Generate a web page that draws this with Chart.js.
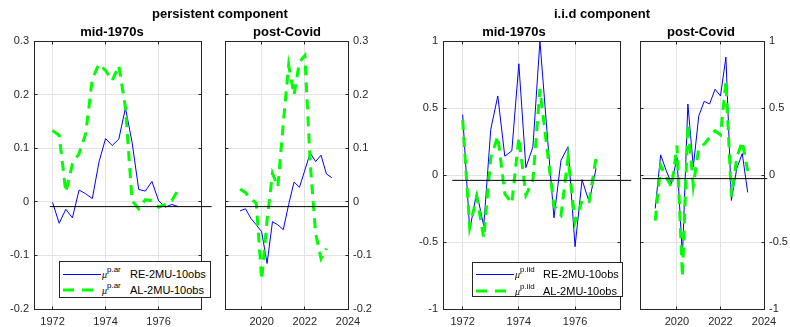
<!DOCTYPE html>
<html><head><meta charset="utf-8">
<script src="https://cdn.jsdelivr.net/npm/chart.js@4.4.1/dist/chart.umd.min.js"></script>
<style>
html,body{margin:0;padding:0;background:#fff;}
#wrap{position:relative;width:790px;height:327px;overflow:hidden;font-family:'Liberation Sans',Arial,sans-serif;}
canvas{position:absolute;top:0;}
.ttl{position:absolute;width:200px;text-align:center;font-weight:bold;font-size:13px;line-height:16px;color:#000;white-space:nowrap;}
.leg{position:absolute;background:#fff;border:1px solid #262626;box-sizing:border-box;}
.leg span{position:absolute;white-space:nowrap;color:#000;}
.leg .mu{font-family:'Liberation Serif',serif;font-style:italic;font-size:10px;line-height:10px;}
.leg .sup{font-size:8px;line-height:8px;}
.leg .lt{font-size:11px;line-height:14px;}
.leg svg{position:absolute;}
</style></head>
<body><div id="wrap">
<canvas id="c1" width="230" height="327" style="left:0px"></canvas>
<canvas id="c2" width="190" height="327" style="left:200px"></canvas>
<canvas id="c3" width="240" height="327" style="left:400px"></canvas>
<canvas id="c4" width="160" height="327" style="left:630px"></canvas>
<div class="ttl" style="left:120px;top:6px">persistent component</div>
<div class="ttl" style="left:502px;top:6px">i.i.d component</div>
<div class="ttl" style="left:12px;top:24px">mid-1970s</div>
<div class="ttl" style="left:187px;top:24px">post-Covid</div>
<div class="ttl" style="left:414px;top:24px">mid-1970s</div>
<div class="ttl" style="left:601px;top:24px">post-Covid</div>
<div class="leg" id="leg1" style="left:59px;top:261px;width:152px;height:37px"></div>
<div class="leg" id="leg3" style="left:472px;top:262px;width:151px;height:35px"></div>
</div>
<script>
// ---- data ----
const quarters70s = [1972.00,1972.25,1972.50,1972.75,1973.00,1973.25,1973.50,1973.75,1974.00,1974.25,
                     1974.50,1974.75,1975.00,1975.25,1975.50,1975.75,1976.00,1976.25,1976.50,1976.75];
const quartersCovid = [2019.00,2019.25,2019.50,2019.75,2020.00,2020.25,2020.50,2020.75,2021.00,
                       2021.25,2021.50,2021.75,2022.00,2022.25,2022.50,2022.75,2023.00,2023.25];

const persRE70s = [-0.001,-0.040,-0.014,-0.030,0.022,0.015,0.006,0.074,0.118,0.105,
                   0.117,0.175,0.111,0.023,0.020,0.038,0.002,-0.010,-0.005,-0.009];
const persAL70s = [0.133,0.124,0.018,0.071,0.090,0.127,0.229,0.257,0.245,0.226,
                   0.254,0.176,0.002,-0.013,0.004,0.002,-0.010,-0.005,0.002,0.024];
const persRECovid = [-0.017,-0.013,-0.031,-0.043,-0.056,-0.115,-0.037,-0.043,-0.052,
                     -0.005,0.037,0.027,0.059,0.091,0.075,0.087,0.052,0.045];
const persALCovid = [0.024,0.017,0.006,-0.003,-0.146,-0.034,0.053,0.028,0.146,
                     0.255,0.199,0.261,0.273,0.071,-0.059,-0.106,-0.087];

const iidRE70s = [0.45,-0.41,-0.13,-0.38,0.34,0.59,0.14,0.18,0.83,0.055,
                  0.21,1.00,0.33,-0.32,0.11,0.21,-0.535,-0.035,-0.20,0.05];
const iidAL70s = [0.41,-0.39,-0.16,-0.47,0.13,0.29,-0.14,-0.21,0.28,-0.15,
                  -0.04,0.64,0.20,-0.23,-0.30,0.13,-0.35,-0.19,-0.20,0.13];
const iidRECovid = [-0.25,0.15,0.035,-0.065,0.13,-0.61,0.53,0.06,0.44,
                    0.55,0.53,0.64,0.59,0.88,-0.19,0.05,0.16,-0.13];
const iidALCovid = [-0.34,0.07,-0.015,-0.09,0.22,-0.76,0.38,-0.08,0.20,
                    0.23,0.28,0.33,0.30,0.70,-0.16,0.13,0.25,0.03];

const xTicks70s = [1972, 1974, 1976];
const xTicksCovid = [2020, 2022, 2024];
const yTicksPers = [-0.2, -0.1, 0, 0.1, 0.2, 0.3];
const yTicksIid = [-1, -0.5, 0, 0.5, 1];
const xRange70s = [1971.3, 1977.6];
const xRangeCovid = [2018.3, 2024];
const yRangePers = [-0.2, 0.3];
const yRangeIid = [-1, 1];

const seriesLabels = ['RE-2MU-10obs', 'AL-2MU-10obs'];
const supPers = 'p.ar';
const supIid = 'p.iid';

// horizontal reference lines: [x start, x end] and level
const refSpanPers70s = [1971.9, 1978.0],  refLevelPers70s = -0.009;
const refSpanPersCovid = [2018.3, 2024.0], refLevelPersCovid = -0.009;
const refSpanIid70s = [1971.63, 1978.0],  refLevelIid70s = -0.04;
const refSpanIidCovid = [2018.4, 2024.15], refLevelIidCovid = -0.027;

// ---- rendering ----
Chart.defaults.font.family = "'Liberation Sans', Arial, sans-serif";
const AX = '#262626';
const al = (p) => Math.round(p - 0.5) + 0.5;

const boxPlugin = {
  id: 'axbox',
  afterDatasetsDraw(chart) {
    const {ctx, chartArea: a, scales: {x, y}} = chart;
    const L = al(a.left), R = al(a.right), T = al(a.top), B = al(a.bottom);
    ctx.save();
    ctx.strokeStyle = AX; ctx.lineWidth = 1;
    ctx.strokeRect(L, T, R - L, B - T);
    ctx.beginPath();
    x.ticks.forEach(t => {
      const px = al(x.getPixelForValue(t.value));
      ctx.moveTo(px, B); ctx.lineTo(px, B - 3);
      ctx.moveTo(px, T); ctx.lineTo(px, T + 3);
    });
    y.ticks.forEach(t => {
      const py = al(y.getPixelForValue(t.value));
      ctx.moveTo(L, py); ctx.lineTo(L + 3, py);
      ctx.moveTo(R, py); ctx.lineTo(R - 3, py);
    });
    ctx.stroke();
    ctx.restore();
  }
};

const pts = (xs, ys) => ys.map((v, i) => ({x: xs[i], y: v}));

function panel(id, o) {
  return new Chart(document.getElementById(id), {
    type: 'line',
    data: { datasets: [
      {label: 'ref', data: [{x: o.ref[0], y: o.refY}, {x: o.ref[1], y: o.refY}],
       borderColor: '#000', borderWidth: 1, pointRadius: 0, clip: false, order: 1},
      {label: seriesLabels[1], data: pts(o.xs, o.al), borderColor: '#00ff00', borderWidth: 3,
       borderDash: [10, 7], pointRadius: 0, tension: 0, order: 2},
      {label: seriesLabels[0], data: pts(o.xs, o.re), borderColor: '#0000ff', borderWidth: 1,
       pointRadius: 0, tension: 0, order: 3}
    ]},
    options: {
      responsive: false, animation: false, devicePixelRatio: 1,
      layout: {padding: o.pad},
      plugins: {legend: {display: false}, tooltip: {enabled: false}},
      scales: {
        x: {type: 'linear', min: o.xr[0], max: o.xr[1],
            afterBuildTicks: s => { s.ticks = o.xt.map(v => ({value: v})); },
            afterFit: s => { s.height = 18; },
            ticks: {callback: v => String(v), font: {size: 11}, color: AX, padding: 6,
                    maxRotation: 0, autoSkip: false},
            grid: {color: '#e3e3e3', drawTicks: false}, border: {display: false}},
        y: {type: 'linear', position: o.ypos, min: o.yr[0], max: o.yr[1],
            afterBuildTicks: s => { s.ticks = o.yt.map(v => ({value: v})); },
            afterFit: s => { s.width = o.yw; },
            ticks: {callback: v => String(v), font: {size: 11}, color: AX, padding: 5, autoSkip: false},
            grid: {color: '#e3e3e3', drawTicks: false}, border: {display: false}}
      }
    },
    plugins: [boxPlugin]
  });
}

panel('c1', {xs: quarters70s, re: persRE70s, al: persAL70s, xr: xRange70s, xt: xTicks70s,
  yr: yRangePers, yt: yTicksPers, ypos: 'left', yw: 34, pad: {left: 0, top: 41, right: 29, bottom: 0},
  ref: refSpanPers70s, refY: refLevelPers70s});
panel('c2', {xs: quartersCovid, re: persRECovid, al: persALCovid, xr: xRangeCovid, xt: xTicksCovid,
  yr: yRangePers, yt: yTicksPers, ypos: 'right', yw: 42, pad: {left: 25, top: 41, right: 0, bottom: 0},
  ref: refSpanPersCovid, refY: refLevelPersCovid});
panel('c3', {xs: quarters70s, re: iidRE70s, al: iidAL70s, xr: xRange70s, xt: xTicks70s,
  yr: yRangeIid, yt: yTicksIid, ypos: 'left', yw: 43, pad: {left: 0, top: 41, right: 20, bottom: 0},
  ref: refSpanIid70s, refY: refLevelIid70s});
panel('c4', {xs: quartersCovid, re: iidRECovid, al: iidALCovid, xr: xRangeCovid, xt: xTicksCovid,
  yr: yRangeIid, yt: yTicksIid, ypos: 'right', yw: 26, pad: {left: 10, top: 41, right: 0, bottom: 0},
  ref: refSpanIidCovid, refY: refLevelIidCovid});

function buildLegend(id, sup, rowY) {
  const el = document.getElementById(id);
  const styles = [{c: '#0000ff', w: 1, dash: 'none'}, {c: '#00ff00', w: 3, dash: '11 8'}];
  styles.forEach((s, i) => {
    const cy = rowY[i];
    el.insertAdjacentHTML('beforeend',
      `<svg style="left:3px;top:${cy - 4}px" width="38" height="8"><line x1="0" y1="${s.w === 1 ? 4.5 : 4}" x2="38" y2="${s.w === 1 ? 4.5 : 4}" stroke="${s.c}" stroke-width="${s.w}" stroke-dasharray="${s.dash}"/></svg>` +
      `<span class="mu" style="left:42px;top:${cy - 4}px">μ</span>` +
      `<span class="sup" style="left:47px;top:${cy - 8}px">${sup}</span>` +
      `<span class="lt" style="left:70px;top:${cy - 7}px">${seriesLabels[i]}</span>`);
  });
}
buildLegend('leg1', supPers, [12, 28]);
buildLegend('leg3', supIid, [11, 28]);
</script>
</body></html>
